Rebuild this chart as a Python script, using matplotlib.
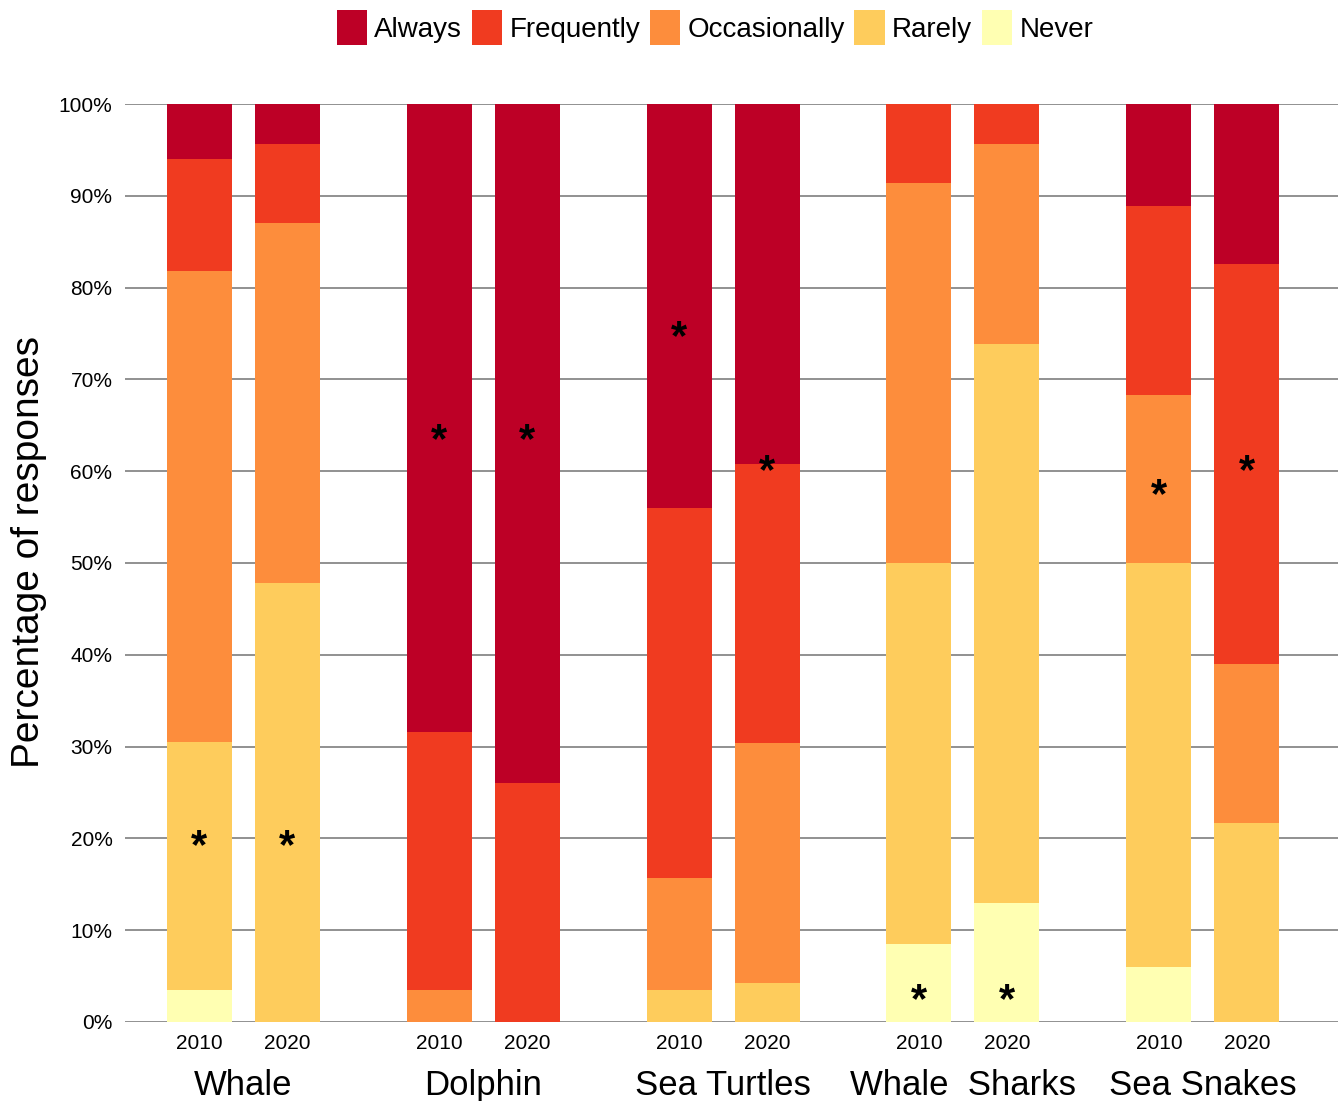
import numpy as np
import matplotlib.pyplot as plt
from matplotlib.patches import Patch

plt.rcParams["font.family"] = ["Liberation Sans", "DejaVu Sans"]

# 数据（百分比，每段高度）
species = ["Whale", "Dolphin", "Sea Turtles", "Whale  Sharks", "Sea Snakes"]
years = ["2010", "2020"]
levels = ["Always", "Frequently", "Occasionally", "Rarely", "Never"]
colors = ["#bd0026", "#f03b20", "#fd8d3c", "#fecc5c", "#ffffb2"]

never = [3.5, 0, 0, 0, 0, 0, 8.5, 13.0, 6.0, 0]
rarely = [27.0, 47.8, 0, 0, 3.5, 4.2, 41.5, 60.9, 44.0, 21.7]
occasionally = [51.3, 39.2, 3.5, 0, 12.2, 26.2, 41.4, 21.8, 18.3, 17.3]
frequently = [12.2, 8.7, 28.1, 26.0, 40.3, 30.4, 8.6, 4.3, 20.6, 43.6]
always = [6.0, 4.3, 68.4, 74.0, 44.0, 39.2, 0, 0, 11.1, 17.4]

# 显著性星号的位置（百分比高度）
star_y = [20, 20, 64.2, 64.2, 75.4, 60.8, 3.2, 3.2, 58.2, 60.8]

# =========================
# 绘图
# =========================
fig = plt.figure(figsize=(13.44, 11.01), dpi=100)
ax = fig.add_axes([0.093, 0.0718, 0.9025, 0.8337])

offset = 88 / 240 / 2
width = 65 / 240
x = []
for g in range(len(species)):
    x += [g - offset, g + offset]
x = np.array(x)

stack = [never, rarely, occasionally, frequently, always]
stack_colors = colors[::-1]
bottom = np.zeros(len(x))
for vals, c in zip(stack, stack_colors):
    vals = np.array(vals, dtype=float)
    ax.bar(x, vals, width=width, bottom=bottom, color=c, zorder=3, linewidth=0)
    bottom += vals

for xi, yi in zip(x, star_y):
    ax.text(xi, yi - 0.9, "*", ha="center", va="center", fontsize=30,
            fontweight="bold", zorder=4)

ax.set_xlim(-0.492, 4.5625)
ax.set_ylim(0, 100)
ax.set_yticks(np.arange(0, 101, 10))
ax.set_yticklabels([f"{v}%" for v in range(0, 101, 10)], fontsize=15)
ax.yaxis.grid(True, color="#919191", linewidth=1.4, zorder=0)
ax.tick_params(axis="y", length=0, pad=9)
ax.tick_params(axis="x", length=0, pad=9)
ax.set_xticks(x)
ax.set_xticklabels(years * len(species), fontsize=15)
for s in ax.spines.values():
    s.set_visible(False)

for g, name in enumerate(species):
    ax.text(g, -6.9, name, ha="center", va="center", fontsize=25)

ax.set_ylabel("Percentage of responses", fontsize=28)
ax.yaxis.set_label_coords(-0.064, 0.512)

handles = [Patch(facecolor=c, edgecolor="none") for c in colors]
fig.legend(handles, levels, loc="center", bbox_to_anchor=(0.532, 0.975),
           ncol=5, frameon=False, fontsize=20, handlelength=1.1,
           handleheight=1.6, handletextpad=0.25, columnspacing=0.35)

plt.savefig("out.png", dpi=100)
plt.close("all")
